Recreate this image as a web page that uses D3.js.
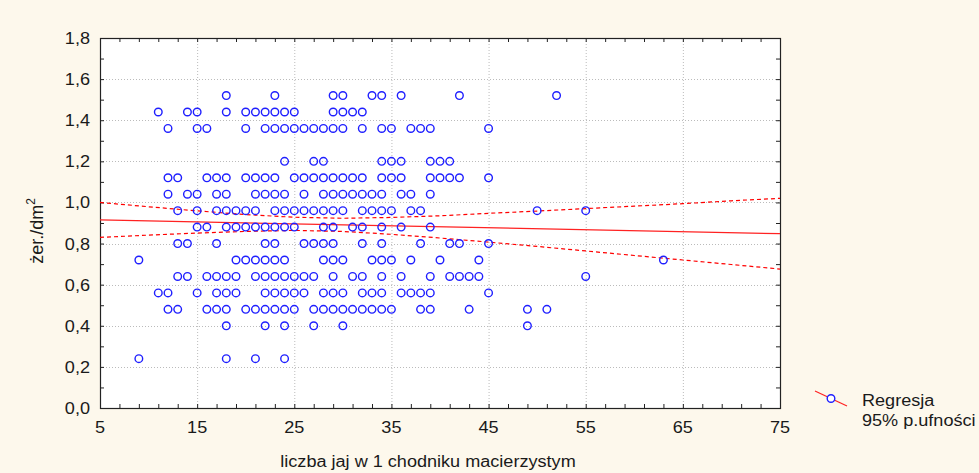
<!DOCTYPE html>
<html>
<head>
<meta charset="utf-8">
<script src="https://cdn.jsdelivr.net/npm/d3@7"></script>
<style>
  body { margin:0; background:#fdf8ec; }
  svg text { font-family:"Liberation Sans", Arial, sans-serif; fill:#1a1a1a; }
</style>
</head>
<body>
<svg id="chart" width="979" height="473"></svg>
<script>
// rows of points: y level and the x values found on that level
var rowY = [1.52, 1.44, 1.36, 1.2, 1.12, 1.04, 0.96, 0.88, 0.8, 0.72, 0.64, 0.56, 0.48, 0.4, 0.24];
var rowX = [
  [18, 23, 29, 30, 33, 34, 36, 42, 52],
  [11, 14, 15, 18, 20, 21, 22, 23, 24, 25, 29, 30, 31, 32],
  [12, 15, 16, 20, 22, 23, 24, 25, 26, 27, 28, 29, 30, 32, 34, 35, 37, 38, 39, 45],
  [24, 27, 28, 34, 35, 36, 39, 40, 41],
  [12, 13, 16, 17, 18, 20, 21, 22, 23, 25, 26, 27, 28, 29, 30, 31, 32, 34, 35, 36, 39, 40, 41, 42, 45],
  [12, 14, 15, 17, 18, 21, 22, 23, 24, 26, 28, 29, 30, 31, 32, 33, 34, 36, 37, 39],
  [13, 15, 17, 18, 19, 20, 21, 23, 24, 25, 26, 27, 28, 29, 30, 32, 33, 34, 35, 37, 38, 50, 55],
  [15, 16, 18, 19, 20, 21, 22, 23, 24, 25, 28, 29, 31, 32, 34, 36, 39],
  [13, 14, 17, 22, 23, 26, 27, 28, 29, 32, 34, 38, 41, 42, 45],
  [9, 19, 20, 21, 22, 23, 24, 28, 29, 30, 33, 34, 35, 37, 40, 44, 63],
  [13, 14, 16, 17, 18, 19, 21, 22, 23, 24, 25, 26, 27, 29, 31, 32, 34, 36, 39, 41, 42, 43, 44, 55],
  [11, 12, 15, 17, 18, 19, 22, 23, 24, 25, 26, 28, 29, 30, 32, 33, 34, 36, 37, 38, 39, 45],
  [12, 13, 16, 17, 18, 20, 21, 22, 23, 24, 25, 27, 28, 29, 30, 31, 32, 33, 34, 35, 38, 39, 43, 49, 51],
  [18, 22, 24, 27, 30, 49],
  [9, 18, 21, 24]
];

// regression line and 95% band
var regX = [5, 75];
var regY = [0.915, 0.848];
var bandX  = [5, 10, 15, 20, 25, 30, 35, 40, 45, 50, 55, 60, 65, 70, 75];
var bandUp = [1.000, 0.979, 0.959, 0.941, 0.928, 0.923, 0.927, 0.935, 0.947, 0.958, 0.970, 0.982, 0.994, 1.008, 1.020];
var bandLo = [0.830, 0.841, 0.851, 0.859, 0.864, 0.859, 0.845, 0.827, 0.807, 0.786, 0.764, 0.742, 0.720, 0.698, 0.676];

var xTicks = [5, 15, 25, 35, 45, 55, 65, 75];
var yTicks = [0, 0.2, 0.4, 0.6, 0.8, 1.0, 1.2, 1.4, 1.6, 1.8];
var xTitle = "liczba jaj w 1 chodniku macierzystym";
var legendLabels = ["Regresja", "95% p.ufności"];

var L = 100, R = 780, T = 38, B = 408;
var svg = d3.select("#chart");
var x = d3.scaleLinear().domain([5, 75]).range([L, R]);
var y = d3.scaleLinear().domain([0, 1.8]).range([B, T]);
var fmt = function(d){ return d3.format(".1f")(d).replace(".", ","); };

svg.append("rect").attr("x", L).attr("y", T).attr("width", R-L).attr("height", B-T).attr("fill", "#fff");

// dotted grid
svg.append("g").selectAll("line").data(xTicks.slice(1, -1)).join("line")
  .attr("x1", d => x(d)+0.5).attr("x2", d => x(d)+0.5).attr("y1", T).attr("y2", B)
  .attr("stroke", "#bbb").attr("stroke-dasharray", "1,2");
svg.append("g").selectAll("line").data(yTicks.slice(1, -1)).join("line")
  .attr("y1", d => Math.round(y(d))+0.5).attr("y2", d => Math.round(y(d))+0.5).attr("x1", L).attr("x2", R)
  .attr("stroke", "#bbb").attr("stroke-dasharray", "1,2");

// axes with inward ticks, mirrored on top/right
var xMinor = d3.range(5, 75.01, 2);
var yMinor = d3.range(0, 1.801, 0.1);
function ticks(g, axis, sc, vals, len){
  g.call(axis(sc).tickValues(vals).tickSize(len).tickFormat(""));
  g.select(".domain").remove();
  g.selectAll(".tick line").attr("stroke", "#222");
}
svg.append("g").attr("transform", "translate(0," + B + ")").call(ticks, d3.axisTop, x, xMinor, 4);
svg.append("g").attr("transform", "translate(0," + T + ")").call(ticks, d3.axisBottom, x, xMinor, 4);
svg.append("g").attr("transform", "translate(" + L + ",0)").call(ticks, d3.axisRight, y, yMinor, 4);
svg.append("g").attr("transform", "translate(" + R + ",0)").call(ticks, d3.axisLeft, y, yMinor, 4);

svg.append("rect").attr("x", L+0.5).attr("y", T+0.5).attr("width", R-L).attr("height", B-T)
  .attr("fill", "none").attr("stroke", "#222").attr("stroke-width", 1.2);

// tick labels
svg.append("g").selectAll("text").data(xTicks).join("text")
  .attr("class", "st").attr("x", d => x(d)).attr("y", 433).attr("text-anchor", "middle")
  .attr("font-size", 16).text(d => d);
svg.append("g").selectAll("text").data(yTicks).join("text")
  .attr("class", "st").attr("x", 90).attr("y", d => y(d) + 6).attr("text-anchor", "end")
  .attr("font-size", 16).text(fmt);

svg.append("text").attr("class", "st").attr("x", 428).attr("y", 467).attr("text-anchor", "middle")
  .attr("font-size", 16).text(xTitle);

var yl = svg.append("text").attr("transform", "translate(43,231) rotate(-90)")
  .attr("text-anchor", "middle").attr("font-size", 18);
yl.append("tspan").text("żer./dm");
yl.append("tspan").attr("font-size", 12).attr("dy", -8).text("2");

// band and regression
var line = d3.line().x(d => x(d[0])).y(d => y(d[1]));
[bandUp, bandLo].forEach(function(b){
  svg.append("path").datum(bandX.map((v, i) => [v, b[i]])).attr("d", line)
    .attr("fill", "none").attr("stroke", "#f00").attr("stroke-width", 1.2).attr("stroke-dasharray", "4,3");
});
svg.append("path").datum(regX.map((v, i) => [v, regY[i]])).attr("d", line)
  .attr("fill", "none").attr("stroke", "#f22").attr("stroke-width", 1.2);

// points
var pts = [];
rowY.forEach((v, i) => rowX[i].forEach(xv => pts.push([xv, v])));
svg.append("g").selectAll("circle").data(pts).join("circle")
  .attr("cx", d => x(d[0])).attr("cy", d => y(d[1])).attr("r", 3.8)
  .attr("fill", "none").attr("stroke", "#1f1fff").attr("stroke-width", 1.4);

// legend
svg.append("line").attr("x1", 815).attr("y1", 391).attr("x2", 847).attr("y2", 406)
  .attr("stroke", "#f22").attr("stroke-width", 1.2);
svg.append("circle").attr("cx", 831).attr("cy", 398.5).attr("r", 3.8)
  .attr("fill", "#fff").attr("stroke", "#1f1fff").attr("stroke-width", 1.4);
svg.append("g").selectAll("text").data(legendLabels).join("text")
  .attr("class", "st").attr("x", 862).attr("y", (d, i) => 406 + i*20).attr("font-size", 16).text(d => d);

// the picture is a little wider than the fonts
svg.selectAll("text.st").each(function(){
  var w = this.getComputedTextLength();
  d3.select(this).attr("textLength", w*1.13).attr("lengthAdjust", "spacingAndGlyphs");
});
</script>
</body>
</html>
